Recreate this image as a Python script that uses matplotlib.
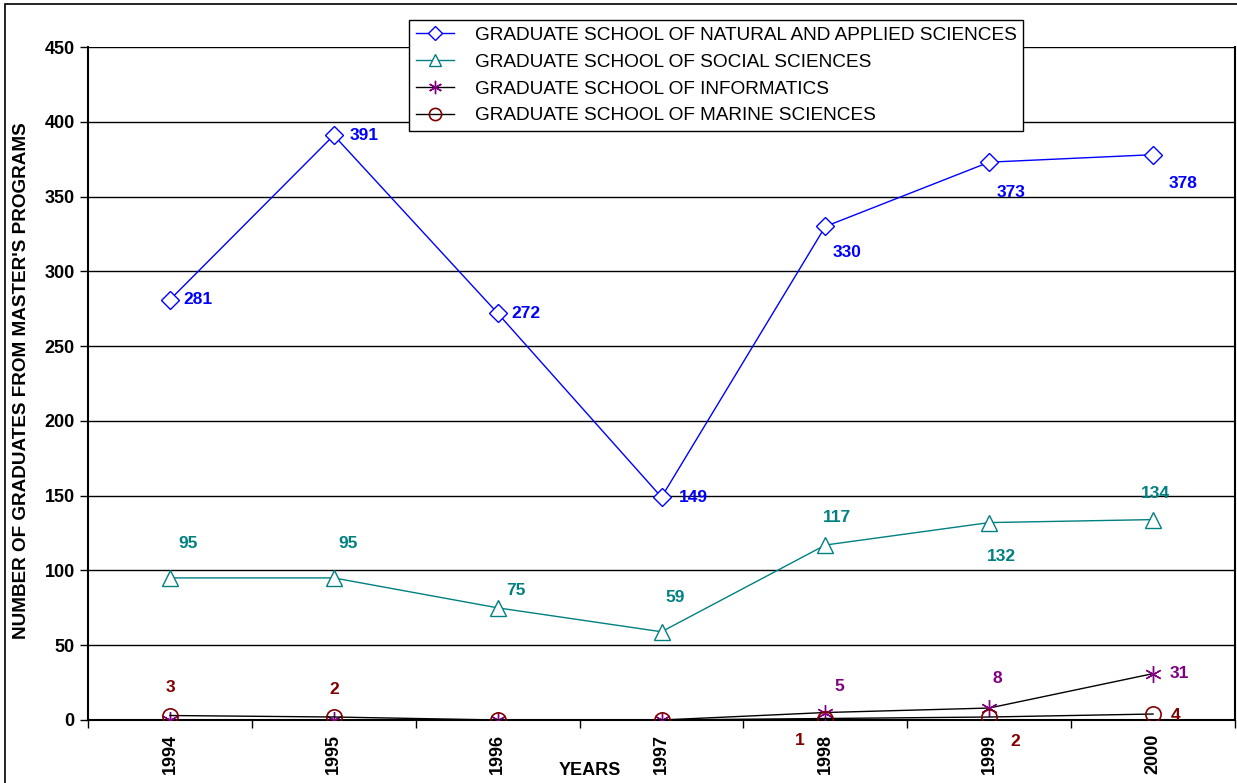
import matplotlib
matplotlib.use("Agg")
import matplotlib.pyplot as plt
from matplotlib.patches import Rectangle

# --- data ---
years = ["1994", "1995", "1996", "1997", "1998", "1999", "2000"]
natural = [281, 391, 272, 149, 330, 373, 378]
social = [95, 95, 75, 59, 117, 132, 134]
informatics = [0, 0, 0, 0, 5, 8, 31]
marine = [3, 2, 0, 0, 1, 2, 4]

series_names = [
    "GRADUATE SCHOOL OF NATURAL AND APPLIED SCIENCES",
    "GRADUATE SCHOOL OF SOCIAL SCIENCES",
    "GRADUATE SCHOOL OF INFORMATICS",
    "GRADUATE SCHOOL OF MARINE SCIENCES",
]

# label offsets in pixels (dx, dy); None = no label drawn
natural_off = [(28, 0), (30, 0), (28, 0), (32, 0), (22, -26), (22, -30), (30, -29)]
social_off = [(18, 34), (14, 34), (18, 17), (14, 34), (12, 28), (12, -34), (2, 26)]
info_off = [None, None, None, None, (14, 26), (8, 30), (26, 0)]
marine_off = [(1, 28), (0, 28), None, None, (-26, -22), (26, -24), (22, -1)]

BLUE = "#0000FF"
TEAL = "#008080"
PURPLE = "#800080"
DRED = "#800000"

plt.rcParams["font.family"] = ["Liberation Sans", "DejaVu Sans"]

fig = plt.figure(figsize=(12.37, 7.83), dpi=100)
ax = fig.add_axes([88 / 1237, 1 - 720 / 783, (1235 - 88) / 1237, (720 - 47) / 783])

x = list(range(len(years)))
ax.plot(x, natural, color=BLUE, lw=1, marker="D", ms=9, mfc="white",
        mec=BLUE, mew=1, label=series_names[0], zorder=4)
ax.plot(x, social, color=TEAL, lw=1, marker="^", ms=11, mfc="white",
        mec=TEAL, mew=1, label=series_names[1], zorder=4)
ax.plot(x, informatics, color="black", lw=1, marker=(6, 2, 0), ms=12,
        mec=PURPLE, mew=1, label=series_names[2], zorder=4)
ax.plot(x, marine, color="black", lw=1, marker="o", ms=11, mfc="none",
        mec=DRED, mew=1.2, label=series_names[3], zorder=4)


def put_labels(vals, offs, color):
    for i, (v, off) in enumerate(zip(vals, offs)):
        if off is None:
            continue
        ax.annotate(str(v), (i, v), xytext=off, textcoords="offset pixels",
                    ha="center", va="center", color=color,
                    fontsize=12.5, fontweight="bold", zorder=5)


put_labels(natural, natural_off, BLUE)
put_labels(social, social_off, TEAL)
put_labels(informatics, info_off, PURPLE)
put_labels(marine, marine_off, DRED)

# axes
ax.set_xlim(-0.5, len(years) - 0.5)
ax.set_ylim(0, 450)
ax.set_yticks(range(0, 451, 50))
ax.set_xticks(x)
ax.set_xticklabels(years, rotation=90, fontweight="bold", fontsize=13)
ax.set_xticks([i + 0.5 for i in range(-1, len(years))], minor=True)
ax.tick_params(axis="x", which="major", length=0, pad=10)
ax.tick_params(axis="x", which="minor", length=6, width=1, direction="out")
ax.tick_params(axis="y", length=6, width=1, direction="out", labelsize=13)
for t in ax.get_yticklabels():
    t.set_fontweight("bold")
ax.yaxis.grid(True, color="black", lw=1)
ax.set_axisbelow(True)
for s in ax.spines.values():
    s.set_linewidth(1.5)
ax.spines["top"].set_visible(False)

ax.set_ylabel("NUMBER OF GRADUATES FROM MASTER'S PROGRAMS",
              fontsize=13.6, fontweight="bold")
ax.yaxis.set_label_coords(-(88 - 30) / (1235 - 88), 0.505)
ax.set_xlabel("YEARS", fontsize=13, fontweight="bold")
ax.xaxis.set_label_coords((590 - 88) / (1235 - 88), -0.062)

leg = ax.legend(loc="upper left", bbox_to_anchor=(409 / 1237, 1 - 20 / 783),
                bbox_transform=fig.transFigure, borderaxespad=0,
                fancybox=False, edgecolor="black", framealpha=1,
                fontsize=13.7, handlelength=2.0, handletextpad=1.1,
                labelspacing=0.5, markerscale=0.8, borderpad=0.35)
leg.get_frame().set_linewidth(1)
leg.set_zorder(10)

# outer chart border (right/bottom edges fall outside the image)
fig.add_artist(Rectangle((5 / 1237, -0.05), 1.2, 1 - 4 / 783 + 0.05,
                         transform=fig.transFigure, fill=False,
                         edgecolor="black", lw=1.2))

fig.savefig("out.png", dpi=100)
